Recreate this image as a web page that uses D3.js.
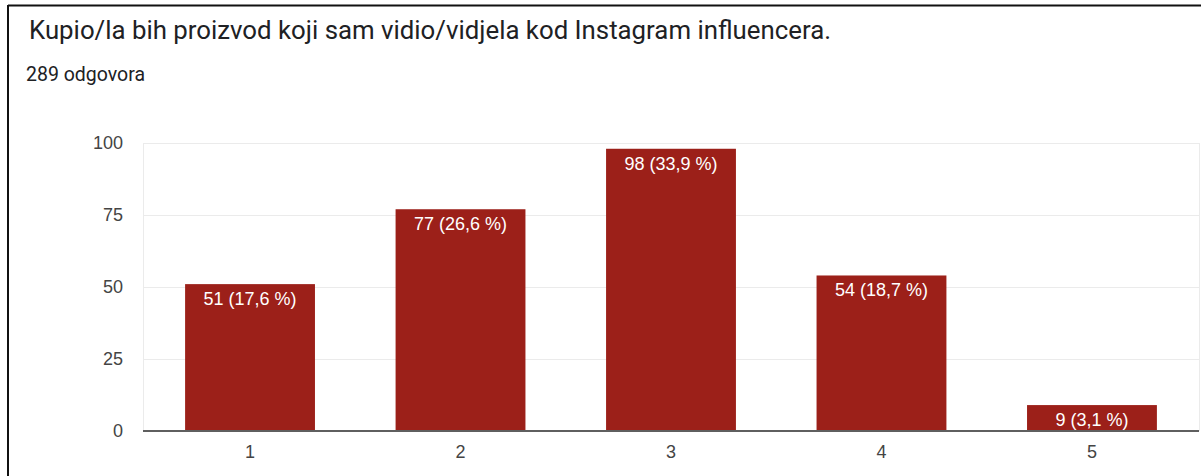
<!DOCTYPE html>
<html>
<head>
<meta charset="utf-8">
<script src="https://cdn.jsdelivr.net/npm/d3@7"></script>
<style>
  body { margin: 0; background: #fff; }
  svg { display: block; }
</style>
</head>
<body>
<svg id="chart"></svg>
<script>
const categories = ["1", "2", "3", "4", "5"]
const counts = [51, 77, 98, 54, 9]
const total = 289
const yTicks = [0, 25, 50, 75, 100]
const title = "Kupio/la bih proizvod koji sam vidio/vidjela kod Instagram influencera."
const subtitle = total + " odgovora"

const W = 1201, H = 476
const PLOT = { left: 143, right: 1199, top: 143, bottom: 431 }

const svg = d3.select("#chart").attr("width", W).attr("height", H)

// frame (screenshot border)
svg.append("line").attr("x1", 8).attr("x2", W).attr("y1", 5.5).attr("y2", 5.5)
  .attr("stroke", "#111").attr("stroke-width", 2)
svg.append("line").attr("x1", 8).attr("x2", 8).attr("y1", 5).attr("y2", H)
  .attr("stroke", "#111").attr("stroke-width", 2)

svg.append("text")
  .attr("x", 29).attr("y", 39)
  .style("font-family", "Roboto, Arial, sans-serif")
  .style("font-size", "25.8px")
  .attr("fill", "#202124")
  .text(title)

svg.append("text")
  .attr("x", 26).attr("y", 81)
  .style("font-family", "Roboto, Arial, sans-serif")
  .style("font-size", "19.5px")
  .attr("fill", "#202124")
  .text(subtitle)

const x = d3.scaleBand()
  .domain(categories)
  .range([PLOT.left, PLOT.right])
  .paddingInner(0.383)
  .paddingOuter(0.2)

const y = d3.scaleLinear().domain([0, 100]).range([PLOT.bottom, PLOT.top])

// gridlines
svg.append("g")
  .selectAll("line")
  .data(yTicks.slice(1))
  .enter()
  .append("line")
  .attr("x1", PLOT.left).attr("x2", PLOT.right)
  .attr("y1", d => y(d) + 0.5).attr("y2", d => y(d) + 0.5)
  .attr("stroke", "#ebebeb")

svg.append("g")
  .selectAll("line")
  .data([PLOT.left, PLOT.right])
  .enter()
  .append("line")
  .attr("x1", d => d + 0.5).attr("x2", d => d + 0.5)
  .attr("y1", y(100)).attr("y2", y(0))
  .attr("stroke", "#ebebeb")

// y axis labels
const yAxis = svg.append("g")
  .attr("transform", `translate(${PLOT.left}, 0)`)
  .call(d3.axisLeft(y).tickValues(yTicks).tickSize(0).tickPadding(20))
yAxis.select(".domain").remove()
yAxis.selectAll("text")
  .style("font-family", "Arial, 'Liberation Sans', sans-serif")
  .style("font-size", "18px")
  .attr("fill", "#444")

// bars
svg.selectAll(".bar")
  .data(counts)
  .enter()
  .append("rect")
  .classed("bar", true)
  .attr("x", (d, i) => x(categories[i]))
  .attr("width", x.bandwidth())
  .attr("y", d => y(d))
  .attr("height", d => y(0) - y(d))
  .attr("fill", "#9c2019")

// bar labels
const fmt = d3.format(".1f")
svg.selectAll(".label")
  .data(counts)
  .enter()
  .append("text")
  .classed("label", true)
  .attr("x", (d, i) => x(categories[i]) + x.bandwidth() / 2)
  .attr("y", d => y(d) + 21)
  .attr("text-anchor", "middle")
  .style("font-family", "Arial, 'Liberation Sans', sans-serif")
  .style("font-size", "18px")
  .attr("fill", "#fff")
  .text(d => `${d} (${fmt(d / total * 100).replace(".", ",")} %)`)

// baseline
svg.append("line")
  .attr("x1", PLOT.left).attr("x2", PLOT.right)
  .attr("y1", y(0)).attr("y2", y(0))
  .attr("stroke", "#5f5f5f").attr("stroke-width", 2)

// x axis labels
const xAxis = svg.append("g")
  .attr("transform", `translate(0, ${y(0)})`)
  .call(d3.axisBottom(x).tickSize(0).tickPadding(14))
xAxis.select(".domain").remove()
xAxis.selectAll("text")
  .style("font-family", "Arial, 'Liberation Sans', sans-serif")
  .style("font-size", "18px")
  .attr("fill", "#444")
</script>
</body>
</html>
